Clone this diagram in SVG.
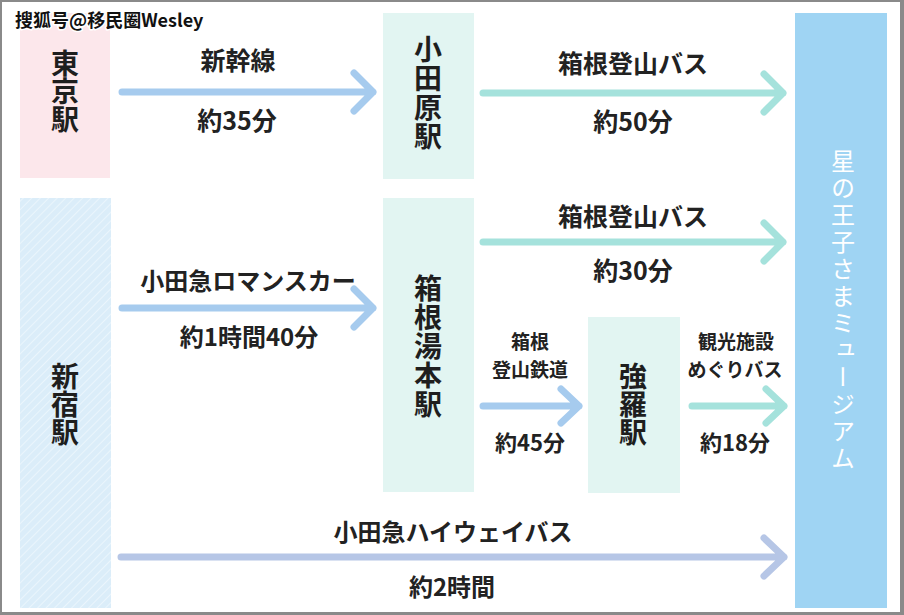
<svg xmlns="http://www.w3.org/2000/svg" width="904" height="615" viewBox="0 0 904 615">
<defs>
<style>
.st{font-family:"Noto Sans CJK JP","Noto Sans CJK SC",sans-serif;font-size:28px;font-weight:700;fill:#1e1e1e;writing-mode:vertical-rl;text-anchor:middle;}
.lb{font-family:"Noto Sans CJK JP","Noto Sans CJK SC",sans-serif;font-size:25px;font-weight:700;fill:#222;text-anchor:middle;}
.sm{font-size:19px;}
.ar{fill:none;stroke-width:7;stroke-linecap:round;stroke-linejoin:round;}
.blue{stroke:#a6cbee;}
.teal{stroke:#a5e2dc;}
.hw{stroke:#b6c6e6;}
.mint{fill:#e2f5f2;}
</style>
<pattern id="hatch" width="6" height="6" patternUnits="userSpaceOnUse" patternTransform="rotate(45)">
<rect width="6" height="6" fill="#dbedf9"/>
<line x1="0" y1="0" x2="0" y2="6" stroke="#eaf5fc" stroke-width="2"/>
</pattern>
</defs>
<rect x="0" y="0" width="904" height="615" fill="#8a8a8a"/>
<rect x="2" y="2" width="898" height="610" fill="#ffffff"/>

<g id="tokyo">
<rect x="20" y="13" width="90" height="165" fill="#fce7eb"/>
<text class="st" x="65" y="91">東京駅</text>
</g>
<g id="shinjuku">
<rect x="20" y="198" width="91" height="410" fill="url(#hatch)"/>
<text class="st" x="65" y="404">新宿駅</text>
</g>
<g id="odawara">
<rect class="mint" x="383" y="13" width="91" height="166"/>
<text class="st" x="428" y="93" letter-spacing="1">小田原駅</text>
</g>
<g id="yumoto">
<rect class="mint" x="383" y="198" width="91" height="294"/>
<text class="st" x="428" y="347" letter-spacing="1">箱根湯本駅</text>
</g>
<g id="gora">
<rect class="mint" x="588" y="317" width="92" height="176"/>
<text class="st" x="633" y="404">強羅駅</text>
</g>
<g id="museum">
<rect x="795" y="13" width="92" height="595" fill="#9fd4f3"/>
<text class="st" x="843" y="311" style="fill:#ffffff;font-size:24px;font-weight:400" letter-spacing="3">星の王子さまミュージアム</text>
</g>

<g id="connectors">
<path class="ar blue" d="M122 92 H373 M354 73 L373 92 L354 111"/>
<path class="ar teal" d="M483 93 H783 M764 74 L783 93 L764 112"/>
<path class="ar teal" d="M483 242 H783 M764 223 L783 242 L764 261"/>
<path class="ar blue" d="M122 308 H373 M354 289 L373 308 L354 327"/>
<path class="ar blue" d="M483 406 H579 M561 389 L579 406 L561 423"/>
<path class="ar teal" d="M692 406 H784 M766 389 L784 406 L766 423"/>
<path class="ar hw" d="M121 557 H784 M764 538 L784 557 L764 576"/>
</g>

<g id="labels">
<text class="lb" x="238" y="70">新幹線</text>
<text class="lb" x="237" y="130">約35分</text>
<text class="lb" x="633" y="73">箱根登山バス</text>
<text class="lb" x="633" y="131">約50分</text>
<text class="lb" x="633" y="226">箱根登山バス</text>
<text class="lb" x="633" y="280">約30分</text>
<text class="lb" x="248" y="290" style="font-size:24px">小田急ロマンスカー</text>
<text class="lb" x="249" y="346" style="font-size:24px">約1時間40分</text>
<text class="lb sm" x="530" y="349">箱根</text>
<text class="lb sm" x="530" y="377">登山鉄道</text>
<text class="lb" x="530" y="451" style="font-size:22px">約45分</text>
<text class="lb sm" x="736" y="349">観光施設</text>
<text class="lb sm" x="735" y="377">めぐりバス</text>
<text class="lb" x="735" y="451" style="font-size:22px">約18分</text>
<text class="lb" x="453" y="541" style="font-size:24px">小田急ハイウェイバス</text>
<text class="lb" x="452" y="596" style="font-size:24px">約2時間</text>
</g>

<text x="15" y="27" style="font-family:'Noto Sans CJK SC','Liberation Sans',sans-serif;font-size:18px;font-weight:700;fill:#111;stroke:#ffffff;stroke-width:3;paint-order:stroke;stroke-linejoin:round">搜狐号@移民圈Wesley</text>
</svg>
